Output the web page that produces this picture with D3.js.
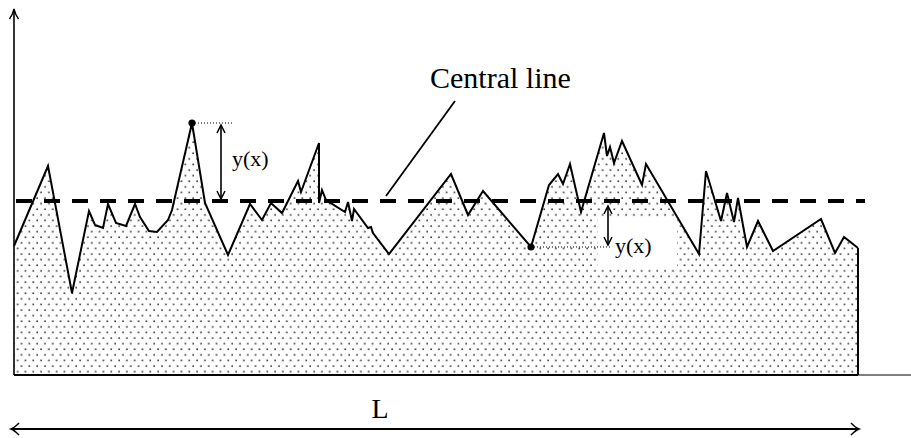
<!DOCTYPE html>
<html><head><meta charset="utf-8">
<script src="https://cdn.jsdelivr.net/npm/d3@7"></script>
<style>body{margin:0;background:#fff}svg{display:block}</style>
</head><body>
<svg id="c" width="911" height="438"></svg>
<script>
// Profile (x along sampling length, height above base)
const profileX = [0,34,58,75,81,89,94,102,112,121,126,135,143,154,158,178,191,214,236,248,257,268,284,287,305,305,308,312,331,334,338,340,354,357,359,375,437,454,469,517,535,544,549,556,567,590,593,596,600,608,628,632,685,692,707,713,720,724,733,744,759,807,821,830,844];
const profileY = [129,209,82,164,150,147,171,152,149,171,158,144,143,155,165,252,172,120,171,155,172,162,194,183,232,172,185,175,163,173,154,166,147,148,142,121,201,160,184,128,190,201,191,211,163,242,219,228,212,234,190,211,121,204,154,182,153,177,128,154,124,156,122,138,127];
const lengthL = 844;
const centralLevel = 174;
const peakIndex = 15;
const valleyIndex = 39;
const labels = {central: "Central line", yx: "y(x)", L: "L"};

const FONT = "'Liberation Serif', 'Times New Roman', serif";
const svg = d3.select("#c");
const x = d3.scaleLinear([0, lengthL], [14, 858]);
const y = d3.scaleLinear([0, 365], [375, 10]);
const pts = profileX.map((v, i) => [v, profileY[i]]);

// stipple pattern
const defs = svg.append("defs");
const pat = defs.append("pattern").attr("id", "dots").attr("patternUnits", "userSpaceOnUse")
  .attr("width", 7.8).attr("height", 11.2);
pat.append("rect").attr("x", 1.3).attr("y", 1.3).attr("width", 1.6).attr("height", 1.6).attr("fill", "#333");
pat.append("rect").attr("x", 5.2).attr("y", 6.9).attr("width", 1.6).attr("height", 1.6).attr("fill", "#333");

const area = d3.area().x(d => x(d[0])).y0(y(0)).y1(d => y(d[1]));
svg.append("path").datum(pts).attr("d", area).attr("fill", "url(#dots)");

// white box behind lower y(x) label
svg.append("rect").attr("x", 598).attr("y", 218).attr("width", 79).attr("height", 51).attr("fill", "#fff");

const line = d3.line().x(d => x(d[0])).y(d => y(d[1]));
svg.append("path").datum(pts).attr("d", line).attr("fill", "none").attr("stroke", "#000")
  .attr("stroke-width", 2).attr("stroke-linejoin", "miter");
// right edge and base
svg.append("line").attr("x1", x(lengthL)).attr("x2", x(lengthL)).attr("y1", y(profileY[profileY.length-1])).attr("y2", y(0))
  .attr("stroke", "#000").attr("stroke-width", 2);
svg.append("line").attr("x1", x(0)).attr("x2", x(lengthL)).attr("y1", y(0)).attr("y2", y(0))
  .attr("stroke", "#000").attr("stroke-width", 2.2);
svg.append("line").attr("x1", x(lengthL)).attr("x2", 911).attr("y1", y(0)).attr("y2", y(0))
  .attr("stroke", "#000").attr("stroke-width", 1);
// y axis with arrow
svg.append("line").attr("x1", x(0)).attr("x2", x(0)).attr("y1", y(0)).attr("y2", 10)
  .attr("stroke", "#000").attr("stroke-width", 1.6);
svg.append("path").attr("d", `M${x(0)-4.5},19 Q${x(0)-1},14 ${x(0)},9 Q${x(0)+1},14 ${x(0)+4.5},19`)
  .attr("fill", "none").attr("stroke", "#000").attr("stroke-width", 1.4);

// central dashed line
svg.append("line").attr("x1", 16).attr("x2", 865).attr("y1", y(centralLevel)).attr("y2", y(centralLevel))
  .attr("stroke", "#000").attr("stroke-width", 4).attr("stroke-dasharray", "16,12");

// pointer to central line
svg.append("line").attr("x1", 386).attr("y1", 196).attr("x2", 455).attr("y2", 101)
  .attr("stroke", "#000").attr("stroke-width", 1.8);
svg.append("text").attr("x", 430).attr("y", 88).text(labels.central)
  .attr("font-family", FONT).attr("font-size", 30);

function vArrow(xp, ya, yb) {
  svg.append("line").attr("x1", xp).attr("x2", xp).attr("y1", ya).attr("y2", yb).attr("stroke", "#000").attr("stroke-width", 1.6);
  svg.append("path").attr("d", `M${xp-4},${ya+8} L${xp},${ya} L${xp+4},${ya+8}`).attr("fill", "none").attr("stroke", "#000").attr("stroke-width", 1.5);
  svg.append("path").attr("d", `M${xp-4},${yb-8} L${xp},${yb} L${xp+4},${yb-8}`).attr("fill", "none").attr("stroke", "#000").attr("stroke-width", 1.5);
}

// peak marker
const pk = pts[peakIndex];
svg.append("line").attr("x1", x(pk[0])).attr("x2", x(pk[0]) + 42).attr("y1", y(pk[1])).attr("y2", y(pk[1]))
  .attr("stroke", "#000").attr("stroke-width", 1).attr("stroke-dasharray", "1,2");
svg.append("circle").attr("cx", x(pk[0])).attr("cy", y(pk[1])).attr("r", 3.6).attr("fill", "#000");
vArrow(x(pk[0]) + 29, y(pk[1]) + 2, y(centralLevel) - 2);
svg.append("text").attr("x", 232).attr("y", 166).text(labels.yx)
  .attr("font-family", FONT).attr("font-size", 22);

// valley marker
const vl = pts[valleyIndex];
svg.append("line").attr("x1", x(vl[0])).attr("x2", x(vl[0]) + 81).attr("y1", y(vl[1])).attr("y2", y(vl[1]))
  .attr("stroke", "#000").attr("stroke-width", 1).attr("stroke-dasharray", "1,2");
svg.append("circle").attr("cx", x(vl[0])).attr("cy", y(vl[1])).attr("r", 3.6).attr("fill", "#000");
vArrow(x(vl[0]) + 77, y(centralLevel) + 5, y(vl[1]) - 2);
svg.append("text").attr("x", 615).attr("y", 253).text(labels.yx)
  .attr("font-family", FONT).attr("font-size", 22);

// L arrow
const yL = 429;
svg.append("line").attr("x1", 12).attr("x2", x(lengthL)).attr("y1", yL).attr("y2", yL).attr("stroke", "#000").attr("stroke-width", 1.8);
svg.append("path").attr("d", `M19,${yL-6} Q14,${yL-1} 11,${yL} Q14,${yL+1} 19,${yL+6}`).attr("fill", "none").attr("stroke", "#000").attr("stroke-width", 1.5);
svg.append("path").attr("d", `M${x(lengthL)-7},${yL-6} Q${x(lengthL)-2},${yL-1} ${x(lengthL)+1},${yL} Q${x(lengthL)-2},${yL+1} ${x(lengthL)-7},${yL+6}`).attr("fill", "none").attr("stroke", "#000").attr("stroke-width", 1.5);
svg.append("text").attr("x", 380).attr("y", 418).attr("text-anchor", "middle").text(labels.L)
  .attr("font-family", FONT).attr("font-size", 28);
</script>
</body></html>
